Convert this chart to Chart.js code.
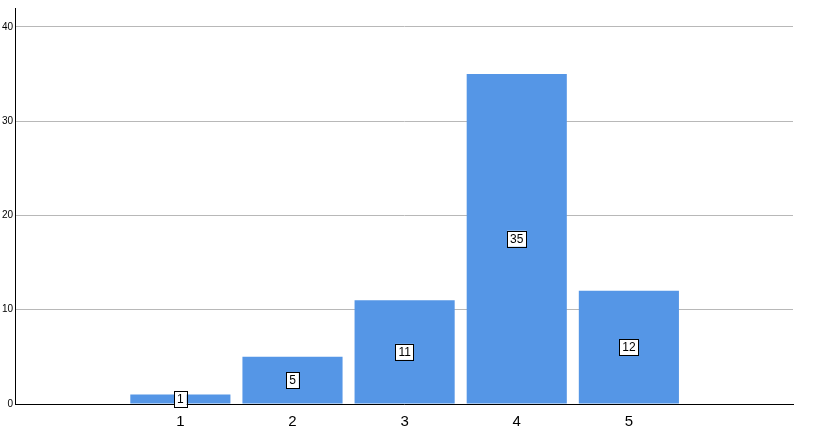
<!DOCTYPE html>
<html>
<head>
<meta charset="utf-8">
<script src="https://cdn.jsdelivr.net/npm/chart.js@4"></script>
<style>
  body { margin: 0; background: #fff; }
  #wrap { width: 817px; height: 436px; }
</style>
</head>
<body>
<div id="wrap"><canvas id="myChart"></canvas></div>
<script>
const categories = [1, 2, 3, 4, 5];
const counts = [1, 5, 11, 35, 12];
const yTicks = [0, 10, 20, 30, 40];

// boxed value labels in the middle of each bar
const boxLabels = {
  id: 'boxLabels',
  afterDatasetsDraw(chart) {
    const ctx = chart.ctx;
    const meta = chart.getDatasetMeta(0);
    ctx.save();
    ctx.font = '12px Arial, "Liberation Sans"';
    ctx.textAlign = 'center';
    ctx.textBaseline = 'middle';
    meta.data.forEach((bar, i) => {
      const txt = String(counts[i]);
      const y = (bar.y + bar.base) / 2;
      const w = ctx.measureText(txt).width + 6;
      const h = 16;
      ctx.fillStyle = '#fff';
      ctx.fillRect(bar.x - w / 2, y - h / 2, w, h);
      ctx.strokeStyle = '#000';
      ctx.lineWidth = 1;
      ctx.strokeRect(Math.round(bar.x - w / 2) + 0.5, Math.round(y - h / 2) + 0.5, Math.round(w), h);
      ctx.fillStyle = '#000';
      ctx.fillText(txt, bar.x, y + 1);
    });
    ctx.restore();
  },
};

new Chart(document.getElementById('myChart'), {
  type: 'bar',
  data: {
    datasets: [
      {
        data: categories.map((c, i) => ({ x: c, y: counts[i] })),
        backgroundColor: '#5596e6',
        borderWidth: 0,
        barPercentage: 0.893,
        categoryPercentage: 1,
      },
    ],
  },
  options: {
    responsive: true,
    maintainAspectRatio: false,
    animation: false,
    layout: { padding: { top: 3, right: 24, left: 0, bottom: 4 } },
    plugins: { legend: { display: false }, tooltip: { enabled: false } },
    scales: {
      x: {
        type: 'linear',
        min: 0.22,
        max: 5.77,
        afterBuildTicks: (axis) => {
          axis.ticks = categories.map((v) => ({ value: v }));
        },
        grid: { display: false },
        border: { color: '#000' },
        ticks: { color: '#000', font: { size: 15, family: 'Arial, "Liberation Sans"' }, padding: 1 },
      },
      y: {
        min: 0,
        max: 42,
        afterBuildTicks: (axis) => {
          axis.ticks = yTicks.map((v) => ({ value: v }));
        },
        grid: { color: '#b8b8b8', drawTicks: false },
        border: { color: '#000' },
        ticks: { color: '#000', font: { size: 10, family: 'Arial, "Liberation Sans"' }, padding: 2 },
      },
    },
  },
  plugins: [boxLabels],
});
</script>
</body>
</html>
